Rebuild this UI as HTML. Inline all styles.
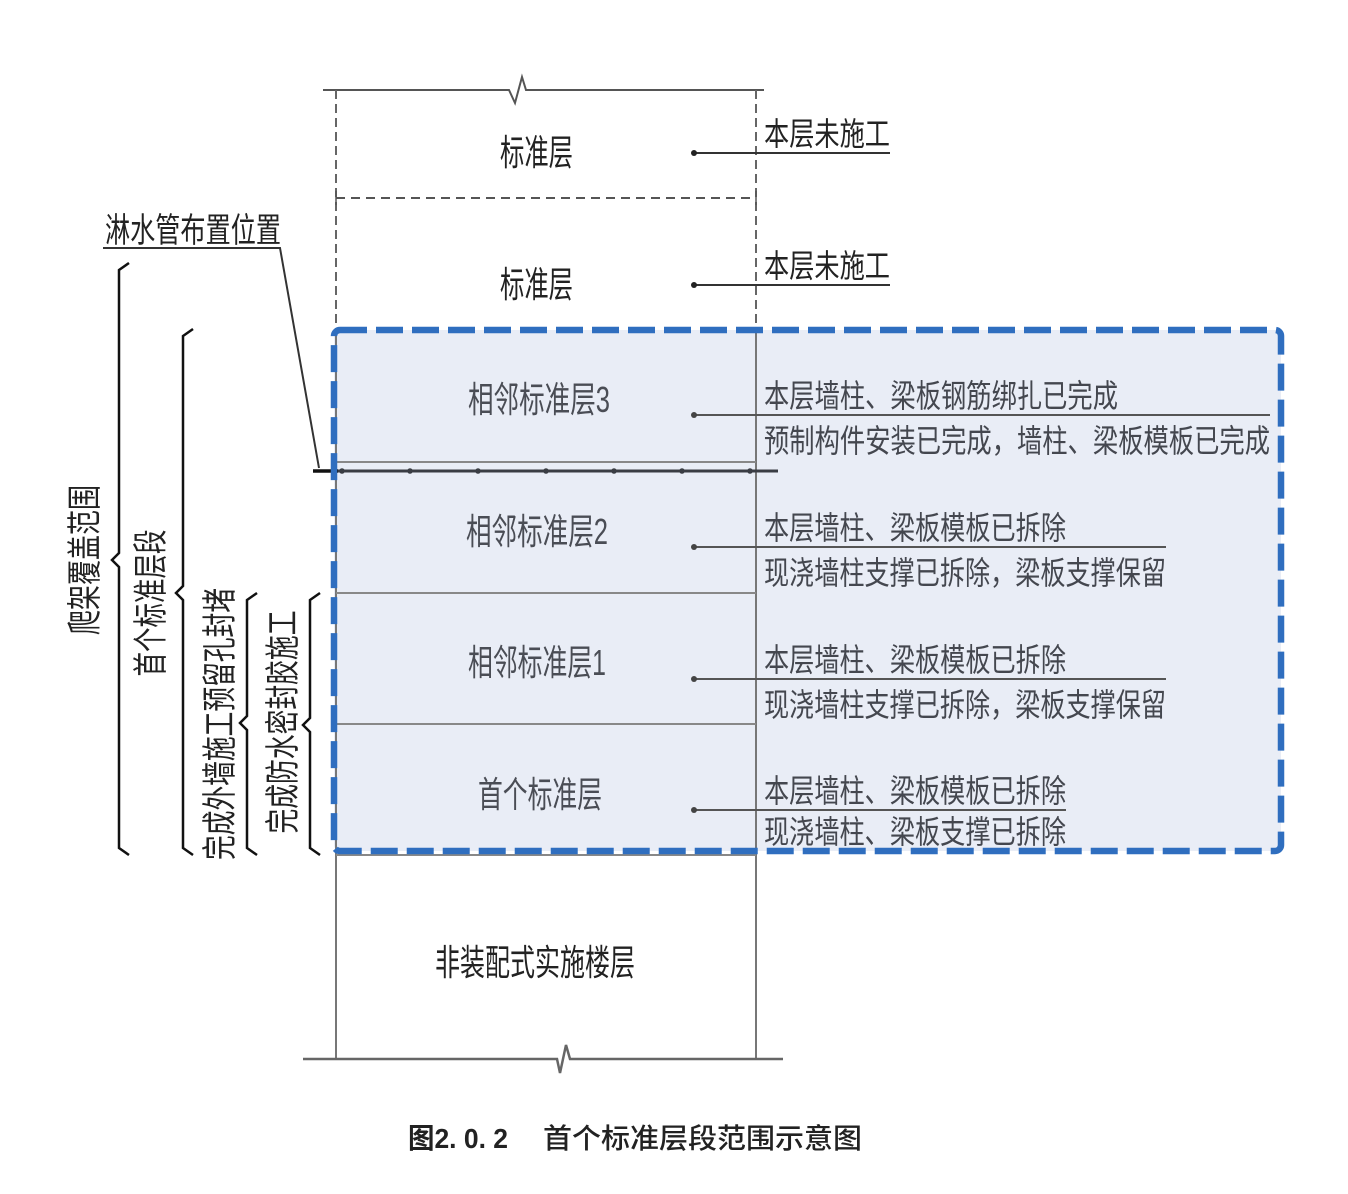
<!DOCTYPE html>
<html>
<head>
<meta charset="utf-8">
<style>
html,body{margin:0;padding:0;background:#fff;}
svg{display:block;}
text{font-family:"Liberation Sans","Noto Sans CJK SC",sans-serif;}
</style>
</head>
<body>
<svg width="1348" height="1194" viewBox="0 0 1348 1194" xmlns="http://www.w3.org/2000/svg">
  <rect x="0" y="0" width="1348" height="1194" fill="#fff"/>

  <!-- blue region fill -->
  <rect x="334" y="330" width="947" height="521" rx="6" fill="#e9edf6"/>

  <!-- top break line -->
  <polyline points="323,90 509,90 515,103 522,77 526,90 764,90" fill="none" stroke="#555" stroke-width="2"/>
  <!-- dashed verticals top -->
  <line x1="336" y1="90" x2="336" y2="330" stroke="#666" stroke-width="2" stroke-dasharray="9 5"/>
  <line x1="756" y1="90" x2="756" y2="330" stroke="#666" stroke-width="2" stroke-dasharray="9 5"/>
  <line x1="336" y1="198" x2="756" y2="198" stroke="#555" stroke-width="2" stroke-dasharray="9 6"/>
  <line x1="336" y1="191" x2="336" y2="205" stroke="#555" stroke-width="1.5"/>
  <line x1="756" y1="191" x2="756" y2="205" stroke="#555" stroke-width="1.5"/>

  <!-- solid verticals -->
  <line x1="336" y1="330" x2="336" y2="1059" stroke="#777" stroke-width="2"/>
  <line x1="756" y1="330" x2="756" y2="1059" stroke="#777" stroke-width="2"/>

  <!-- floor lines -->
  <line x1="336" y1="462" x2="756" y2="462" stroke="#888" stroke-width="2"/>
  <line x1="336" y1="593" x2="756" y2="593" stroke="#888" stroke-width="2"/>
  <line x1="336" y1="724" x2="756" y2="724" stroke="#888" stroke-width="2"/>
  <line x1="336" y1="855" x2="756" y2="855" stroke="#888" stroke-width="2"/>

  <!-- bottom break line -->
  <polyline points="303,1059 557,1059 560,1073 566,1045 570,1059 783,1059" fill="none" stroke="#666" stroke-width="2.5"/>

  <!-- pipe line -->
  <line x1="336" y1="471" x2="778" y2="471" stroke="#3a3d44" stroke-width="3"/>
  <line x1="313" y1="471" x2="338" y2="471" stroke="#111" stroke-width="3.5"/>
  <g fill="#3a3d44">
    <circle cx="342" cy="471" r="2.8"/>
    <circle cx="410" cy="471" r="2.8"/>
    <circle cx="478" cy="471" r="2.8"/>
    <circle cx="546" cy="471" r="2.8"/>
    <circle cx="614" cy="471" r="2.8"/>
    <circle cx="682" cy="471" r="2.8"/>
    <circle cx="750" cy="471" r="2.8"/>
  </g>

  <!-- leader 淋水管 -->
  <polyline points="103,248 280,248 319,468" fill="none" stroke="#333" stroke-width="2"/>

  <!-- leader lines right -->
  <g stroke="#333" stroke-width="2" fill="none">
    <line x1="694" y1="153" x2="890" y2="153"/>
    <line x1="694" y1="285" x2="890" y2="285"/>
  </g>
  <g stroke="#555" stroke-width="2" fill="none">
    <line x1="694" y1="415" x2="1270" y2="415"/>
    <line x1="694" y1="547" x2="1166" y2="547"/>
    <line x1="694" y1="679" x2="1166" y2="679"/>
    <line x1="694" y1="810" x2="1066" y2="810"/>
  </g>
  <g fill="#222">
    <circle cx="694" cy="153" r="3"/>
    <circle cx="694" cy="285" r="3"/>
  </g>
  <g fill="#444">
    <circle cx="694" cy="415" r="3"/>
    <circle cx="694" cy="547" r="3"/>
    <circle cx="694" cy="679" r="3"/>
    <circle cx="694" cy="810" r="3"/>
  </g>

  <!-- braces -->
  <g fill="none" stroke="#111" stroke-width="2.5" stroke-linejoin="miter">
    <polyline points="129,263 119,270 119,553 112,560 119,567 119,848 129,855"/>
    <polyline points="193,329 183,336 183,586 176,593 183,600 183,848 193,855"/>
    <polyline points="257,593 247,600 247,716 240,723 247,730 247,848 257,855"/>
    <polyline points="320,593 310,600 310,718 303,725 310,732 310,848 320,855"/>
  </g>

  <!-- blue dashed border -->
  <rect x="334" y="330" width="947" height="521" rx="6" fill="none" stroke="#2f6ebf" stroke-width="6.5" stroke-dasharray="27 9"/>

  <!-- center labels -->
  <g font-size="36" text-anchor="start">
    <text x="500" y="165" textLength="73" lengthAdjust="spacingAndGlyphs" fill="#222">标准层</text>
    <text x="500" y="297" textLength="73" lengthAdjust="spacingAndGlyphs" fill="#222">标准层</text>
    <text x="468" y="412" textLength="142" lengthAdjust="spacingAndGlyphs" fill="#4a4d55">相邻标准层3</text>
    <text x="466" y="544" textLength="142" lengthAdjust="spacingAndGlyphs" fill="#4a4d55">相邻标准层2</text>
    <text x="468" y="675" textLength="138" lengthAdjust="spacingAndGlyphs" fill="#4a4d55">相邻标准层1</text>
    <text x="478" y="807" textLength="124" lengthAdjust="spacingAndGlyphs" fill="#4a4d55">首个标准层</text>
    <text x="435" y="975" textLength="200" lengthAdjust="spacingAndGlyphs" fill="#222">非装配式实施楼层</text>
  </g>

  <!-- right labels -->
  <g font-size="32">
    <text x="764" y="145" textLength="126" lengthAdjust="spacingAndGlyphs" fill="#222">本层未施工</text>
    <text x="764" y="277" textLength="126" lengthAdjust="spacingAndGlyphs" fill="#222">本层未施工</text>
    <g fill="#44474f">
      <text x="764" y="407" textLength="354" lengthAdjust="spacingAndGlyphs">本层墙柱、梁板钢筋绑扎已完成</text>
      <text x="764" y="452" textLength="506" lengthAdjust="spacingAndGlyphs">预制构件安装已完成，墙柱、梁板模板已完成</text>
      <text x="764" y="539" textLength="302" lengthAdjust="spacingAndGlyphs">本层墙柱、梁板模板已拆除</text>
      <text x="764" y="584" textLength="402" lengthAdjust="spacingAndGlyphs">现浇墙柱支撑已拆除，梁板支撑保留</text>
      <text x="764" y="671" textLength="302" lengthAdjust="spacingAndGlyphs">本层墙柱、梁板模板已拆除</text>
      <text x="764" y="716" textLength="402" lengthAdjust="spacingAndGlyphs">现浇墙柱支撑已拆除，梁板支撑保留</text>
      <text x="764" y="802" textLength="302" lengthAdjust="spacingAndGlyphs">本层墙柱、梁板模板已拆除</text>
      <text x="764" y="843" textLength="302" lengthAdjust="spacingAndGlyphs">现浇墙柱、梁板支撑已拆除</text>
    </g>
  </g>

  <!-- left label -->
  <text x="105" y="242" font-size="34" textLength="176" lengthAdjust="spacingAndGlyphs" fill="#222">淋水管布置位置</text>

  <!-- vertical labels -->
  <g font-size="35" fill="#222" text-anchor="middle">
    <text transform="translate(97,560) rotate(-90)" x="0" y="0" textLength="150" lengthAdjust="spacingAndGlyphs">爬架覆盖范围</text>
    <text transform="translate(163,603) rotate(-90)" x="0" y="0" textLength="147" lengthAdjust="spacingAndGlyphs">首个标准层段</text>
    <text transform="translate(232,724) rotate(-90)" x="0" y="0" textLength="272" lengthAdjust="spacingAndGlyphs">完成外墙施工预留孔封堵</text>
    <text transform="translate(295,722) rotate(-90)" x="0" y="0" textLength="223" lengthAdjust="spacingAndGlyphs">完成防水密封胶施工</text>
  </g>

  <!-- caption -->
  <text x="408" y="1148" font-size="28" font-weight="bold" fill="#222" textLength="100" lengthAdjust="spacingAndGlyphs">图2. 0. 2</text>
  <text x="543" y="1148" font-size="28" font-weight="500" fill="#222" textLength="319" lengthAdjust="spacingAndGlyphs">首个标准层段范围示意图</text>
</svg>
</body>
</html>
